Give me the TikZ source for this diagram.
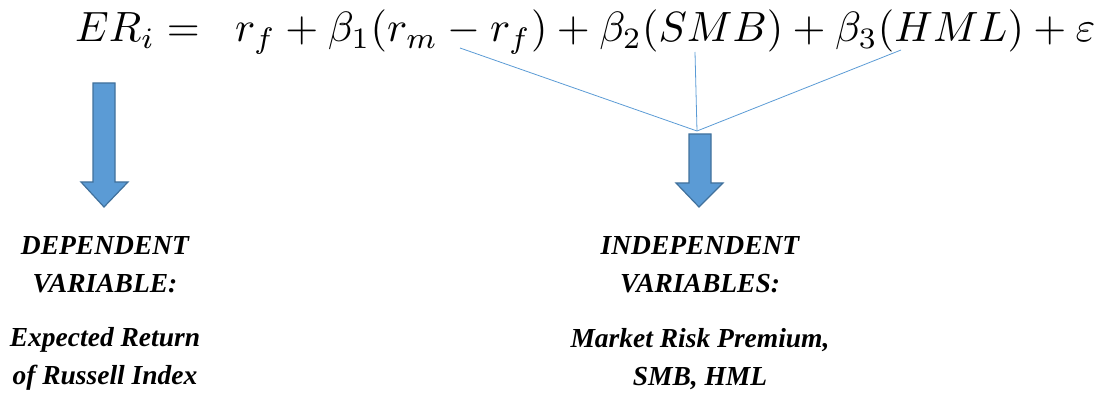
\documentclass[tikz,border=0pt]{standalone}
\usepackage{fontspec}
\setmainfont{Liberation Serif}
\usepackage{graphicx}
\definecolor{arrfill}{HTML}{5B9BD5}
\definecolor{arrdraw}{HTML}{41719C}
\definecolor{linkc}{HTML}{5B9BD5}
\tikzset{
  bigarrow/.style={fill=arrfill, draw=arrdraw, line width=1.2pt, line join=miter},
  link/.style={draw=linkc, line width=0.8pt},
  lbl/.style={font=\fontsize{27.5}{38}\selectfont\bfseries\itshape, align=center, inner sep=0pt}
}
\begin{document}
\begin{tikzpicture}[x=1pt,y=-1pt]
\useasboundingbox (0,0) rectangle (1106,395);
\node[anchor=west, inner sep=0pt] (eq) at (75,32) {\resizebox{1020pt}{!}{$ER_i=\;\; r_f+\beta_1(r_m-r_f)+\beta_2(SMB)+\beta_3(HML)+\varepsilon$}};
% left arrow
\draw[bigarrow] (93,83) -- (115,83) -- (115,182) -- (128,182) -- (104,207) -- (81,182) -- (93,182) -- cycle;
% right arrow
\draw[bigarrow] (689,134) -- (711,134) -- (711,183) -- (723,183) -- (699,207) -- (676,183) -- (689,183) -- cycle;
\coordinate (hub) at (697,131);
\coordinate (c1) at (460,48);
\coordinate (c2) at (695,52);
\coordinate (c3) at (901,50);
\draw[link] (c1) -- (hub);
\draw[link] (c2) -- (hub);
\draw[link] (c3) -- (hub);
\node[lbl] (dep) at (105,265) {DEPENDENT\\VARIABLE:};
\node[lbl] (depd) at (105,359) {Expected Return\\of Russell Index};
\node[lbl] (ind) at (700,265) {INDEPENDENT\\VARIABLES:};
\node[lbl] (indd) at (700,359) {Market Risk Premium,\\SMB, HML};
\end{tikzpicture}
\end{document}
